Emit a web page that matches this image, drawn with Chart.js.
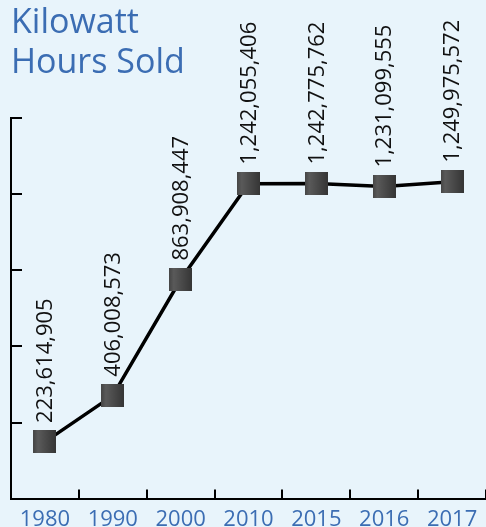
<!DOCTYPE html>
<html>
<head>
<meta charset="utf-8">
<script src="https://cdn.jsdelivr.net/npm/chart.js@4/dist/chart.umd.min.js"></script>
<style>
  html, body { margin: 0; padding: 0; background: #e8f4fb; }
  #wrap { width: 486px; height: 527px; }
</style>
</head>
<body>
<div id="wrap"><canvas id="myChart" width="486" height="527"></canvas></div>
<script>
var years = ["1980", "1990", "2000", "2010", "2015", "2016", "2017"];
var kwhSold = [223614905, 406008573, 863908447, 1242055406, 1242775762, 1231099555, 1249975572];
var yMin = 0, yMax = 1500000000, yStep = 300000000;

var blue = "#3b6db3";

// square marker with a little shading
function makeMarker(size) {
  var c = document.createElement("canvas");
  c.width = size; c.height = size;
  var g = c.getContext("2d");
  var grad = g.createLinearGradient(0, 0, size, 0);
  grad.addColorStop(0, "#454545");
  grad.addColorStop(0.2, "#5a5a5a");
  grad.addColorStop(1, "#353535");
  g.fillStyle = grad;
  g.fillRect(0, 0, size, size);
  return c;
}
var marker = makeMarker(23);

// tick marks pointing into the plot
var innerTicks = {
  id: "innerTicks",
  afterDraw: function(chart) {
    var ctx = chart.ctx, area = chart.chartArea;
    var ys = chart.scales.y, xs = chart.scales.x;
    ctx.save();
    ctx.strokeStyle = "#000";
    ctx.lineWidth = 2;
    ctx.beginPath();
    ys.ticks.forEach(function(t) {
      var py = Math.round(ys.getPixelForValue(t.value));
      ctx.moveTo(area.left, py);
      ctx.lineTo(area.left + 11, py);
    });
    for (var i = 0; i <= years.length; i++) {
      var px = Math.round(xs.getPixelForValue(i - 0.5));
      ctx.moveTo(px, area.bottom);
      ctx.lineTo(px, area.bottom - 9);
    }
    ctx.stroke();
    ctx.restore();
  }
};

// rotated value labels above each point
var valueLabels = {
  id: "valueLabels",
  afterDatasetsDraw: function(chart) {
    var ctx = chart.ctx;
    var meta = chart.getDatasetMeta(0);
    ctx.save();
    ctx.fillStyle = "#111";
    ctx.font = "22px 'Open Sans'";
    ctx.textAlign = "left";
    ctx.textBaseline = "middle";
    meta.data.forEach(function(pt, i) {
      ctx.save();
      ctx.translate(pt.x + 1, pt.y - 19);
      ctx.rotate(-Math.PI / 2);
      ctx.fillText(kwhSold[i].toLocaleString("en-US"), 0, 0);
      ctx.restore();
    });
    ctx.restore();
  }
};

var ctx = document.getElementById("myChart");

var myChart = new Chart(ctx, {
  type: "line",
  data: {
    labels: years,
    datasets: [{
      label: "Kilowatt Hours Sold",
      data: kwhSold,
      borderColor: "#000",
      borderWidth: 3.5,
      pointStyle: marker,
      pointRadius: 12,
      tension: 0
    }]
  },
  options: {
    responsive: false,
    animation: false,
    layout: { autoPadding: false, padding: { left: 11, right: 0, top: 0, bottom: -14 } },
    plugins: {
      legend: { display: false },
      tooltip: { enabled: false },
      title: {
        display: true,
        text: ["Kilowatt", "Hours Sold"],
        align: "start",
        color: blue,
        font: { family: "'Open Sans'", size: 34, weight: "500", lineHeight: 1.18 },
        padding: { top: 3, bottom: 35 }
      }
    },
    scales: {
      x: {
        offset: true,
        grid: { display: false, drawTicks: false },
        border: { display: true, color: "#000", width: 2 },
        ticks: { color: blue, font: { family: "'Open Sans'", size: 22 }, padding: 8, maxRotation: 0, autoSkip: false }
      },
      y: {
        min: yMin,
        max: yMax,
        grid: { display: false, drawTicks: false },
        border: { display: true, color: "#000", width: 2 },
        ticks: { display: false, stepSize: yStep }
      }
    }
  },
  plugins: [innerTicks, valueLabels]
});
</script>
</body>
</html>
